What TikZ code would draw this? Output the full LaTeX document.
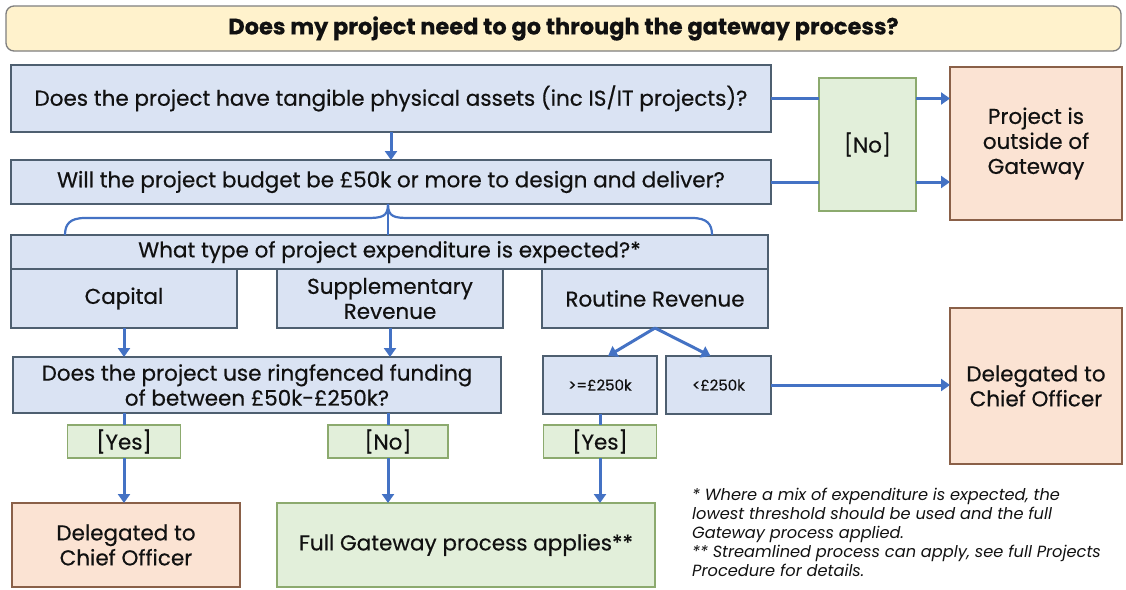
\documentclass[tikz,border=0pt]{standalone}
\usepackage{fontspec}
\setmainfont{Poppins}[FakeBold=0.5]
\newfontfamily\fnfont{Poppins}
\usetikzlibrary{arrows.meta,calc}
\definecolor{bfill}{HTML}{DAE3F3}
\definecolor{bdraw}{HTML}{4E5F70}
\definecolor{gfill}{HTML}{E2EFDA}
\definecolor{gdraw}{HTML}{8CAA6E}
\definecolor{ofill}{HTML}{FBE3D3}
\definecolor{odraw}{HTML}{8A6048}
\definecolor{yfill}{HTML}{FFF2CC}
\definecolor{ydraw}{HTML}{7F7F7F}
\definecolor{arrc}{HTML}{4472C4}
\definecolor{txt}{HTML}{111111}
\tikzset{
  base/.style={inner sep=0pt, outer sep=0pt, line width=1.3pt, align=center, text=txt, font=\fontsize{21.5}{25}\selectfont},
  bbox/.style={base, fill=bfill, draw=bdraw},
  gbox/.style={base, fill=gfill, draw=gdraw},
  obox/.style={base, fill=ofill, draw=odraw},
  arr/.style={draw=arrc, line width=3pt, -{Triangle[width=12pt,length=9pt]}},
  ln/.style={draw=arrc, line width=3pt},
  brace/.style={draw=arrc, line width=2.2pt}
}
\begin{document}
\begin{tikzpicture}[x=1pt,y=-1pt]
\useasboundingbox[fill=white] (0,0) rectangle (1126,589);
% title
\node[base, fill=yfill, draw=ydraw, rounded corners=8pt, minimum width=1115pt, minimum height=45pt, font=\bfseries\fontsize{22.5}{24}\selectfont] (title) at (563.5,28.5) {Does my project need to go through the gateway process?};
\node[bbox, minimum width=760pt, minimum height=67pt] (q1) at (391,98.5) {Does the project have tangible physical assets (inc IS/IT projects)?};
\node[bbox, minimum width=760pt, minimum height=44pt] (q2) at (391,182) {Will the project budget be £50k or more to design and deliver?};
\node[gbox, minimum width=97pt, minimum height=133pt] (no1) at (867.5,144.5) {[No]};
\node[obox, minimum width=172pt, minimum height=153pt] (out) at (1036,143.5) {Project is\\outside of\\Gateway};
\node[bbox, minimum width=757pt, minimum height=34pt] (q3) at (389.5,252) {What type of project expenditure is expected?*};
\node[bbox, minimum width=226pt, minimum height=59pt] (cap) at (124,298.5) {Capital};
\node[bbox, minimum width=226pt, minimum height=59pt] (supp) at (390,298.5) {Supplementary\\Revenue};
\node[bbox, minimum width=226pt, minimum height=59pt] (rout) at (655,298.5) {Routine Revenue};
\node[bbox, minimum width=488pt, minimum height=56pt] (ring) at (257,385) {Does the project use ringfenced funding\\of between £50k-£250k?};
\node[bbox, minimum width=114pt, minimum height=58pt, font=\fontsize{15}{16}\selectfont] (ge) at (600,385) {>=£250k};
\node[bbox, minimum width=105pt, minimum height=58pt, font=\fontsize{15}{16}\selectfont] (lt) at (718.5,385) {<£250k};
\node[gbox, minimum width=113pt, minimum height=33pt] (yes1) at (124,441.5) {[Yes]};
\node[gbox, minimum width=120pt, minimum height=33pt] (no2) at (388,441.5) {[No]};
\node[gbox, minimum width=113pt, minimum height=33pt] (yes3) at (600,441.5) {[Yes]};
\node[obox, minimum width=228pt, minimum height=84pt] (del1) at (126,545) {Delegated to\\Chief Officer};
\node[gbox, minimum width=378pt, minimum height=84pt] (full) at (466,545) {Full Gateway process applies**};
\node[obox, minimum width=172pt, minimum height=156pt] (del2) at (1036,386) {Delegated to\\Chief Officer};
% connectors
\draw[arr] (q1.south) -- (q2.north);
\draw[ln] (q1.east) -- (q1.east -| no1.west);
\draw[arr] (q1.east -| no1.east) -- (q1.east -| out.west);
\draw[ln] (q2.east) -- (q2.east -| no1.west);
\draw[arr] (q2.east -| no1.east) -- (q2.east -| out.west);
\coordinate (bt) at ($(q2.south)+(-3,0)$);
\draw[brace] (bt) -- (bt |- q3.north);
\draw[brace] (bt) .. controls ($(bt)+(0,13)$) and ($(bt)+(-6,14)$) .. ($(bt)+(-22,14)$) -- (85,218) .. controls (70,218) and (65,224) .. (65,235);
\draw[brace] (bt) .. controls ($(bt)+(0,13)$) and ($(bt)+(6,14)$) .. ($(bt)+(22,14)$) -- (692,218) .. controls (707,218) and (712,224) .. (712,235);
\draw[arr] (cap.south) -- (cap.south |- ring.north);
\draw[arr] (supp.south) -- (supp.south |- ring.north);
\draw[arr] (rout.south) -- ($(ge.north)+(8,0)$);
\draw[arr] (rout.south) -- ($(lt.north)+(-8,0)$);
\draw[ln] (yes1.north |- ring.south) -- (yes1.north);
\draw[arr] (yes1.south) -- (yes1.south |- del1.north);
\draw[ln] (no2.north |- ring.south) -- (no2.north);
\draw[arr] (no2.south) -- (no2.south |- full.north);
\draw[ln] (ge.south) -- (yes3.north);
\draw[arr] (yes3.south) -- (yes3.south |- full.north);
\draw[arr] (lt.east) -- (lt.east -| del2.west);
% footnote
\node[anchor=north west, inner sep=0pt, align=left, text=txt, font=\fnfont\itshape\fontsize{16.2}{19}\selectfont] (fn) at (692,488) {* Where a mix of expenditure is expected, the\\lowest threshold should be used and the full\\Gateway process applied.\\** Streamlined process can apply, see full Projects\\Procedure for details.};
\end{tikzpicture}
\end{document}
